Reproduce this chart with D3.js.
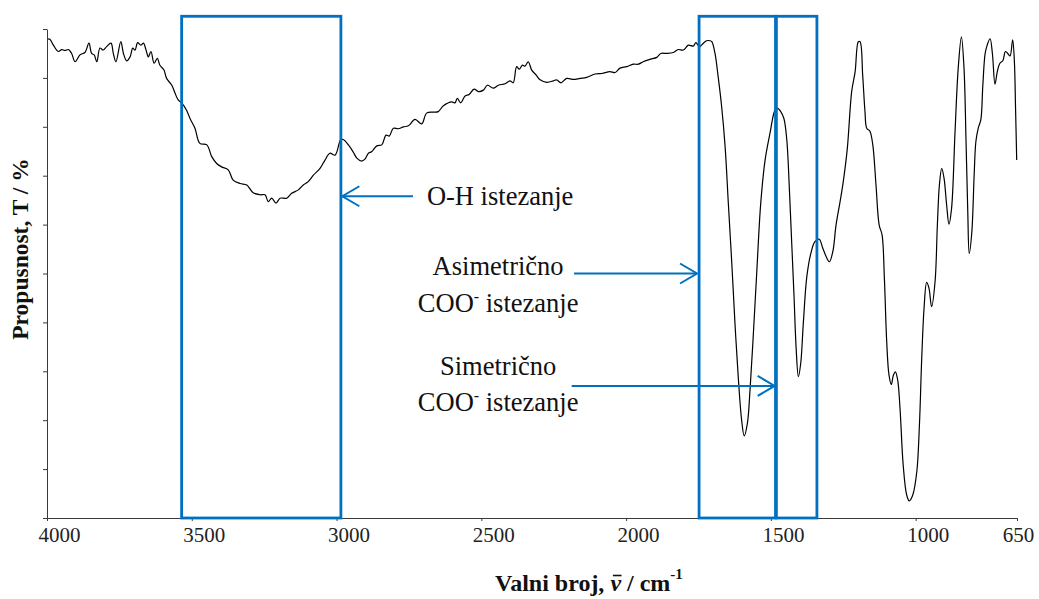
<!DOCTYPE html>
<html>
<head>
<meta charset="utf-8">
<script src="https://cdn.jsdelivr.net/npm/d3@7"></script>
<style>
  html, body { margin: 0; padding: 0; background: #fff; }
  svg { display: block; }
</style>
</head>
<body>
<svg id="chart" width="1039" height="599"></svg>
<script>
// ---- data ----
const wavenumbers = [3998,3990,3978,3961,3949,3938,3926,3915,3903,3886,3869,3855,3846,3837,3828,3817,3806,3794,3779,3771,3762,3745,3736,3725,3713,3704,3696,3687,3676,3667,3658,3650,3641,3630,3619,3610,3596,3587,3569,3558,3547,3535,3518,3506,3489,3472,3448,3431,3414,3397,3374,3357,3333,3310,3288,3264,3247,3236,3224,3209,3195,3172,3155,3132,3115,3098,3080,3057,3040,3023,3005,2986,2977,2959,2942,2930,2913,2902,2890,2879,2861,2844,2829,2818,2804,2787,2769,2752,2729,2706,2689,2666,2649,2631,2602,2591,2583,2571,2556,2542,2525,2510,2493,2479,2459,2441,2418,2401,2390,2378,2369,2358,2349,2338,2326,2311,2297,2274,2251,2240,2225,2205,2182,2159,2136,2107,2084,2056,2038,2021,1998,1975,1958,1941,1917,1894,1880,1860,1837,1820,1802,1785,1768,1759,1747,1733,1722,1710,1704,1693,1682,1670,1658,1647,1635,1624,1612,1601,1592,1581,1572,1561,1549,1535,1520,1503,1486,1478,1466,1455,1445,1436,1428,1420,1413,1405,1397,1388,1376,1362,1348,1333,1321,1310,1298,1286,1275,1261,1250,1236,1221,1209,1198,1192,1183,1175,1169,1158,1148,1137,1126,1116,1108,1100,1092,1084,1077,1070,1062,1054,1043,1031,1022,1010,996,987,979,971,962,954,945,933,925,918,910,902,893,885,876,864,853,842,833,826,820,815,806,798,792,784,775,768,760,753,743,735,726,718,709,699,690,682,674,665,659,655,651];
const transmittance = [98.0,97.9,96.7,95.4,95.8,95.6,95.8,95.0,93.3,94.7,95.2,97.1,95.0,94.7,93.3,96.1,95.7,96.4,97.1,95.0,93.3,97.4,95.0,93.5,94.3,96.1,95.7,97.2,96.7,97.1,95.7,94.3,95.4,93.0,94.0,92.6,91.6,89.9,88.5,86.9,85.5,84.9,83.4,81.7,79.7,76.6,76.3,73.9,72.5,71.8,71.2,69.1,68.4,68.1,66.5,66.1,66.1,64.7,65.4,64.4,65.4,65.4,66.4,67.1,68.1,68.8,70.1,71.5,73.2,74.6,74.2,77.3,77.4,76.3,74.8,73.6,73.0,73.4,74.6,74.9,76.1,76.3,78.3,78.1,79.7,79.6,80.0,80.2,81.5,80.6,82.8,83.0,83.1,84.3,85.1,84.9,85.8,84.9,86.3,86.6,87.7,87.2,87.5,88.5,87.9,88.5,88.8,89.4,89.0,92.3,91.8,92.6,92.4,93.3,91.6,90.6,89.6,89.1,89.4,89.6,89.0,89.9,89.7,89.9,90.1,90.8,90.9,91.3,91.1,92.0,92.3,92.8,92.8,93.3,93.8,94.2,95.0,95.0,95.2,95.8,95.7,96.7,96.5,97.2,96.4,97.1,97.6,97.6,97.4,95.0,90.2,84.1,75.9,64.4,52.1,39.8,28.2,20.0,16.8,19.4,26.2,37.1,50.0,64.4,73.2,78.7,83.4,83.8,83.1,81.7,77.3,67.1,56.2,45.3,35.0,28.9,31.6,39.8,49.3,54.1,56.5,57.0,55.2,53.6,52.4,54.5,59.9,64.7,68.8,75.6,87.2,91.3,97.4,97.4,90.6,83.1,79.7,79.1,76.3,68.1,59.9,57.9,49.0,36.1,29.2,27.3,29.2,29.9,28.2,22.4,10.8,4.7,3.5,4.7,9.5,19.0,32.7,42.9,48.2,47.0,43.2,48.3,59.9,68.1,71.5,69.5,64.0,60.1,63.3,79.0,92.0,98.4,92.0,77.0,62.6,54.1,58.5,70.1,77.0,79.7,81.4,88.5,95.0,96.7,98.0,95.0,88.7,91.3,93.0,93.5,95.4,95.0,94.5,97.8,93.3,83.8,73.2];

const xTickValues = [4000, 3500, 3000, 2500, 2000, 1500, 1000, 650];
const xTickLabels = ["4000", "3500", "3000", "2500", "2000", "1500", "1000", "650"];
const yTickValues = [0, 10, 20, 30, 40, 50, 60, 70, 80, 90, 100];

// highlighted regions [from, to] in cm-1, and box top in %T
const boxRanges = [[3535, 2985], [1748, 1484], [1481, 1341]];
const boxTop = 102.6;

// arrows: tail wavenumber, tip wavenumber, level (%T)
const arrowFrom = [2736, 2180, 2188];
const arrowTo = [2980, 1755, 1487];
const arrowLevel = [65.8, 50.0, 27.0];

// annotation text lines: main text, superscript, rest, x (cm-1), baseline (%T), anchor
const noteText = ["O-H istezanje", "Asimetrično", "COO", "Simetrično", "COO"];
const noteSup = ["", "", "-", "", "-"];
const noteRest = ["", "", " istezanje", "", " istezanje"];
const noteX = [2688, 2442, 2442, 2442, 2442];
const noteY = [64.0, 49.6, 42.2, 29.2, 21.9];
const noteAnchor = ["start", "middle", "middle", "middle", "middle"];

// ---- drawing ----
const serif = "'Liberation Serif', 'Times New Roman', serif";
const blue = "#0070C0";
const svg = d3.select("#chart");

const x = d3.scaleLinear().domain([4000, 650]).range([47, 1017]);
const y = d3.scaleLinear().domain([0, 100]).range([518, 29]);

// spectrum
const pts = d3.zip(wavenumbers, transmittance);
const line = d3.line().x(d => x(d[0])).y(d => y(d[1])).curve(d3.curveCatmullRom.alpha(0.5));
svg.append("path")
  .datum(pts)
  .attr("d", line)
  .attr("fill", "none")
  .attr("stroke", "#000")
  .attr("stroke-width", 1.2)
  .attr("stroke-linejoin", "round");

// axes
const axisColor = "#3a3a3a";
const yAxis = svg.append("g")
  .attr("transform", `translate(${x(4000)},0)`)
  .call(d3.axisLeft(y).tickValues(yTickValues).tickSize(4).tickSizeOuter(0).tickFormat(""));
yAxis.selectAll("path, line").attr("stroke", axisColor).attr("stroke-width", 1);

const xAxis = svg.append("g")
  .attr("transform", `translate(0,${y(0)})`)
  .call(d3.axisBottom(x).tickValues(xTickValues).tickSize(3).tickSizeOuter(0)
    .tickFormat((d, i) => xTickLabels[i]));
xAxis.selectAll("path, line").attr("stroke", axisColor).attr("stroke-width", 1);
xAxis.selectAll("text")
  .attr("font-family", serif)
  .attr("font-size", 21)
  .attr("fill", "#222")
  .attr("y", 23.5)
  .attr("dy", 0)
  .attr("dx", d => d === 650 ? 1 : 12);

// highlight boxes
svg.append("g").selectAll("rect")
  .data(boxRanges)
  .join("rect")
  .attr("x", d => x(d[0]))
  .attr("y", y(boxTop))
  .attr("width", d => x(d[1]) - x(d[0]))
  .attr("height", y(0) - y(boxTop))
  .attr("fill", "none")
  .attr("stroke", blue)
  .attr("stroke-width", 2.8);

// arrows
const arrows = svg.append("g").attr("stroke", blue).attr("stroke-width", 2).attr("fill", "none");
arrowFrom.forEach((f, i) => {
  const x0 = x(f), x1 = x(arrowTo[i]), yy = y(arrowLevel[i]);
  const dir = x1 > x0 ? 1 : -1;
  arrows.append("line").attr("x1", x0).attr("x2", x1).attr("y1", yy).attr("y2", yy);
  arrows.append("path")
    .attr("d", `M${x1 - dir * 17},${yy - 10}L${x1},${yy}L${x1 - dir * 17},${yy + 10}`);
});

// annotation text
noteText.forEach((t, i) => {
  const txt = svg.append("text")
    .attr("x", x(noteX[i]))
    .attr("y", y(noteY[i]))
    .attr("text-anchor", noteAnchor[i])
    .attr("font-family", serif)
    .attr("font-size", 26.5)
    .attr("fill", "#111");
  txt.append("tspan").text(t);
  if (noteSup[i]) {
    txt.append("tspan").attr("font-size", 16).attr("dy", -10).text(noteSup[i]);
    txt.append("tspan").attr("dy", 10).text(noteRest[i]);
  }
});

// axis titles
svg.append("text")
  .attr("transform", "translate(28,249) rotate(-90)")
  .attr("text-anchor", "middle")
  .attr("font-family", serif)
  .attr("font-weight", "bold")
  .attr("font-size", 23.5)
  .attr("fill", "#111")
  .text("Propusnost, T / %");

const titleY = 591;
const xTitle = svg.append("text")
  .attr("x", 495)
  .attr("y", titleY)
  .attr("font-family", serif)
  .attr("font-weight", "bold")
  .attr("font-size", 24)
  .attr("fill", "#111");
xTitle.append("tspan").text("Valni broj, ");
xTitle.append("tspan").attr("font-style", "italic").text("\u03BD");
xTitle.append("tspan").text(" / cm");
xTitle.append("tspan").attr("font-size", 15).attr("dy", -12).text("-1");

// macron over the nu, positioned from the rendered glyph
const node = xTitle.node();
const nuIndex = "Valni broj, ".length;
const p0 = node.getStartPositionOfChar(nuIndex);
const p1 = node.getEndPositionOfChar(nuIndex);
svg.append("line")
  .attr("x1", p0.x + 2.5).attr("x2", p1.x + 0.5)
  .attr("y1", titleY - 15.5).attr("y2", titleY - 15.5)
  .attr("stroke", "#111").attr("stroke-width", 1.6);
</script>
</body>
</html>
